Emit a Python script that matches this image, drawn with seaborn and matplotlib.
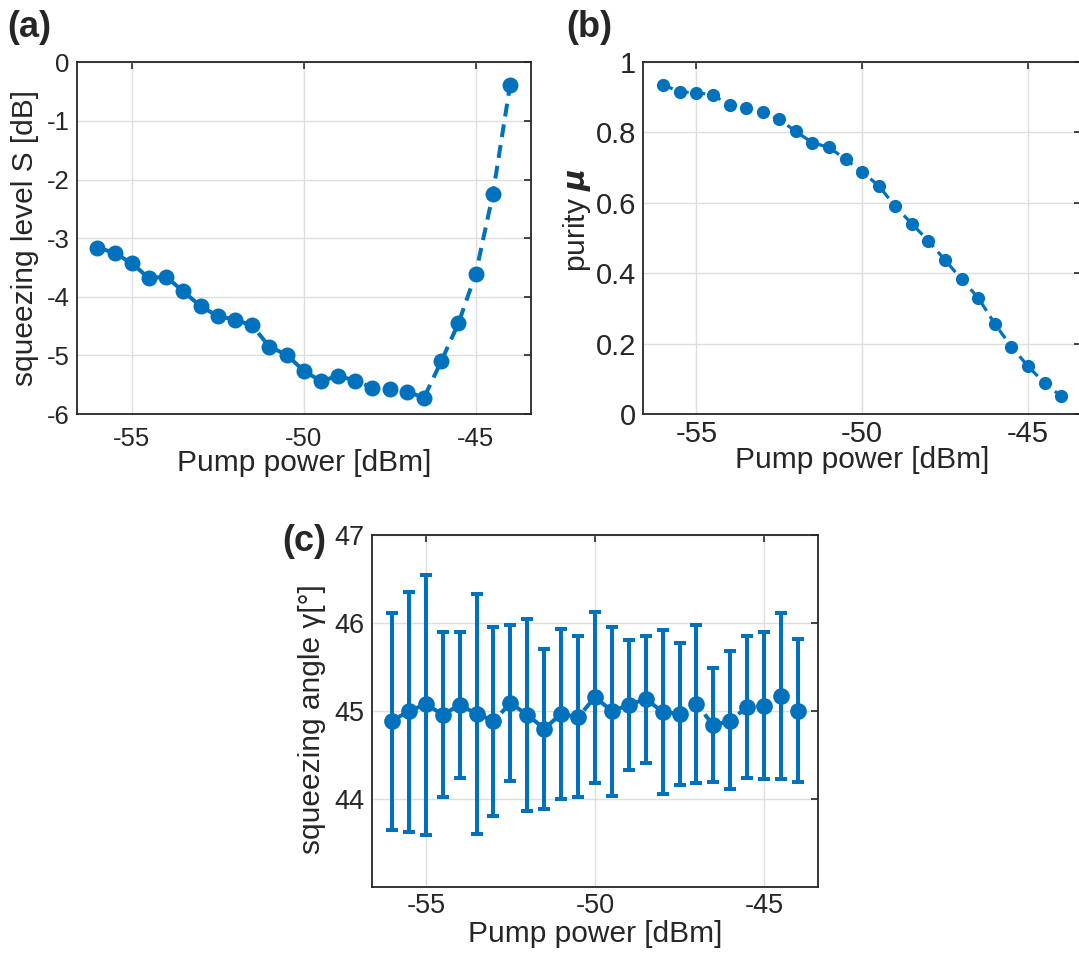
import numpy as np
import pandas as pd
import seaborn as sns
import matplotlib
matplotlib.use("Agg")
import matplotlib.pyplot as plt

# ---------------- data ----------------
power = [-56.0, -55.5, -55.0, -54.5, -54.0, -53.5, -53.0, -52.5, -52.0, -51.5,
         -51.0, -50.5, -50.0, -49.5, -49.0, -48.5, -48.0, -47.5, -47.0, -46.5,
         -46.0, -45.5, -45.0, -44.5, -44.0]

squeezing = [-3.16, -3.25, -3.43, -3.68, -3.66, -3.91, -4.16, -4.33, -4.39, -4.49,
             -4.85, -4.99, -5.26, -5.44, -5.35, -5.43, -5.55, -5.58, -5.62, -5.72,
             -5.10, -4.45, -3.61, -2.25, -0.39]

purity = [0.934, 0.915, 0.912, 0.906, 0.876, 0.868, 0.857, 0.836, 0.802, 0.770,
          0.757, 0.723, 0.687, 0.648, 0.589, 0.540, 0.491, 0.437, 0.382, 0.330,
          0.256, 0.191, 0.136, 0.087, 0.051]

angle = [44.89, 45.00, 45.08, 44.96, 45.07, 44.97, 44.89, 45.09, 44.96, 44.80,
         44.97, 44.93, 45.16, 45.00, 45.07, 45.14, 44.99, 44.97, 45.08, 44.84,
         44.89, 45.05, 45.06, 45.17, 45.00]
angle_upper = [46.12, 46.35, 46.55, 45.90, 45.90, 46.33, 45.96, 45.98, 46.05, 45.70,
               45.93, 45.85, 46.13, 45.96, 45.81, 45.85, 45.92, 45.77, 45.98, 45.49,
               45.68, 45.85, 45.90, 46.12, 45.82]
angle_lower = [43.65, 43.63, 43.59, 44.02, 44.24, 43.61, 43.81, 44.21, 43.87, 43.89,
               44.00, 44.02, 44.18, 44.04, 44.33, 44.41, 44.06, 44.16, 44.18, 44.19,
               44.12, 44.24, 44.23, 44.23, 44.19]

x_ticks = [-55, -50, -45]
x_ticklabels = ["-55", "-50", "-45"]
a_yticks = [0, -1, -2, -3, -4, -5, -6]
b_yticks = [0, 0.2, 0.4, 0.6, 0.8, 1]
b_yticklabels = ["0", "0.2", "0.4", "0.6", "0.8", "1"]
c_yticks = [44, 45, 46, 47]

df = pd.DataFrame({"power": power, "squeezing": squeezing, "purity": purity,
                   "angle": angle})

# ---------------- style ----------------
sns.set_theme(style="white")
plt.rcParams["font.family"] = ["Liberation Sans", "DejaVu Sans"]
plt.rcParams["axes.unicode_minus"] = False
plt.rcParams["mathtext.fontset"] = "custom"
plt.rcParams["mathtext.it"] = "DejaVu Sans:italic:bold"
plt.rcParams["mathtext.rm"] = "Liberation Sans"

BLUE = "#0072BD"
TXT = "#262626"
LAB_FS = 21.5

fig = plt.figure(figsize=(10.79, 9.56), dpi=100)
W, H = 1079.0, 956.0


def make_ax(left, top, right, bottom):
    return fig.add_axes([left / W, 1 - bottom / H, (right - left) / W, (bottom - top) / H])


def style(ax, tick_fs, pad_x=10):
    ax.set_xlim(-56.6, -43.4)
    ax.set_xticks(x_ticks)
    ax.set_xticklabels(x_ticklabels)
    ax.grid(True, color="#dedede", linewidth=1.0)
    ax.set_axisbelow(True)
    for s in ax.spines.values():
        s.set_color("#262626")
        s.set_linewidth(1.3)
    ax.tick_params(direction="in", length=5, width=1.2, top=True, right=True,
                   labelsize=tick_fs, labelcolor=TXT, colors="#262626")
    ax.tick_params(axis="x", pad=pad_x)
    ax.tick_params(axis="y", pad=5)


# ---------------- (a) ----------------
ax_a = make_ax(76.7, 62.3, 530.7, 414.0)
sns.lineplot(data=df, x="power", y="squeezing", ax=ax_a, color=BLUE,
             linewidth=2.9, marker="o", markersize=11.5, markeredgewidth=0,
             dashes=False)
ax_a.lines[0].set_linestyle((0, (3.2, 2.0)))
ax_a.set_ylim(-6, 0)
ax_a.set_yticks(a_yticks)
ax_a.set_yticklabels([str(v) for v in a_yticks])
style(ax_a, 18.5, pad_x=9)
ax_a.set_xlabel("Pump power [dBm]", fontsize=LAB_FS, color=TXT, labelpad=-1)
ax_a.set_ylabel("squeezing level S [dB]", fontsize=LAB_FS, color=TXT)
ax_a.yaxis.set_label_coords(-0.082, 0.5)

# ---------------- (b) ----------------
ax_b = make_ax(643.3, 61.7, 1081.0, 414.0)
sns.lineplot(data=df, x="power", y="purity", ax=ax_b, color=BLUE,
             linewidth=2.3, marker="o", markersize=9.5, markeredgewidth=0,
             dashes=False)
ax_b.lines[0].set_linestyle((0, (3.2, 2.0)))
ax_b.set_ylim(0, 1)
ax_b.set_yticks(b_yticks)
ax_b.set_yticklabels(b_yticklabels)
style(ax_b, 21, pad_x=4)
ax_b.set_xlabel("Pump power [dBm]", fontsize=LAB_FS, color=TXT, labelpad=-1)
ax_b.set_ylabel(r"purity $\mu$", fontsize=LAB_FS, color=TXT)
ax_b.yaxis.set_label_coords(-0.115, 0.55)

# ---------------- (c) ----------------
ax_c = make_ax(371.7, 535.0, 818.3, 887.3)
lo = np.array(angle) - np.array(angle_lower)
hi = np.array(angle_upper) - np.array(angle)
ax_c.errorbar(power, angle, yerr=[lo, hi], fmt="none", ecolor=BLUE,
              elinewidth=2.9, capsize=4.5, capthick=2.9, zorder=3)
sns.lineplot(data=df, x="power", y="angle", ax=ax_c, color=BLUE,
             linewidth=2.9, marker="o", markersize=12, markeredgewidth=0,
             dashes=False, zorder=4)
ax_c.lines[-1].set_linestyle((0, (3.2, 2.0)))
ax_c.set_ylim(43, 47)
ax_c.set_yticks(c_yticks)
ax_c.set_yticklabels([str(v) for v in c_yticks])
style(ax_c, 19.5, pad_x=4)
ax_c.set_xlabel("Pump power [dBm]", fontsize=LAB_FS, color=TXT, labelpad=1)
ax_c.set_ylabel("squeezing angle γ[°]", fontsize=LAB_FS, color=TXT)
ax_c.yaxis.set_label_coords(-0.102, 0.478)

# ---------------- panel letters ----------------
fig.text(7 / W, 1 - 37 / H, "(a)", fontsize=26, fontweight="bold", color=TXT)
fig.text(566 / W, 1 - 37 / H, "(b)", fontsize=26, fontweight="bold", color=TXT)
fig.text(282 / W, 1 - 551 / H, "(c)", fontsize=26, fontweight="bold", color=TXT)

fig.savefig("out.png", dpi=100)
